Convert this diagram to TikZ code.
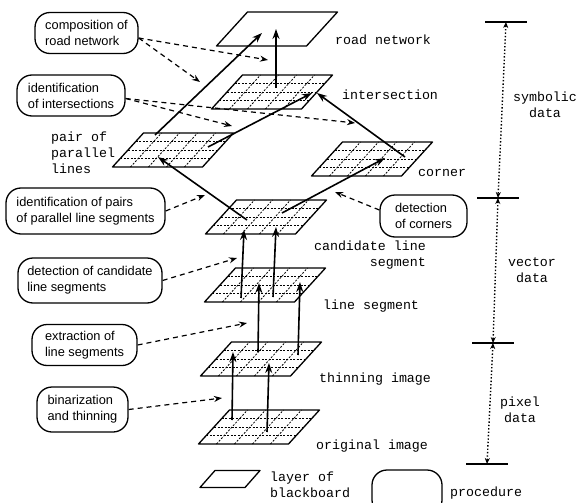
\documentclass[tikz,border=0pt]{standalone}
\usepackage{fontspec}
\setmainfont{Liberation Sans}
\setmonofont{Liberation Mono}
\usetikzlibrary{arrows.meta,positioning,calc}

\begin{document}
\begin{tikzpicture}[x=1pt, y=-1pt,
  plane/.style={draw, line width=1.3pt, fill=white, line join=round},
  grid/.style={dash pattern=on 2pt off 1.5pt, line width=0.8pt},
  box/.style={rectangle, draw, line width=1.3pt, rounded corners=15pt,
    align=left, inner sep=0pt, minimum height=41pt,
    font=\fontsize{12.8}{16}\selectfont},
  lbl/.style={inner sep=0pt, font=\fontsize{13.3}{16}\selectfont\ttfamily},
  arr/.style={-{Stealth[length=10pt,width=7pt]}, line width=1.6pt},
  darr/.style={-{Stealth[length=8pt,width=6pt]}, line width=1.2pt, dash pattern=on 5pt off 4pt},
  dim/.style={{Stealth[length=6pt,width=5pt]}-{Stealth[length=6pt,width=5pt]}, line width=1.4pt, dotted},
  tick/.style={line width=1.2pt}
]
  \useasboundingbox (0,0) rectangle (578,503);
  \clip (0,0) rectangle (578,503);

  % blackboard layers
  \coordinate (road) at (277,29);
  \draw[plane] ([shift={(-60.5,17)}]road) -- ([shift={(29.5,17)}]road)
    -- ([shift={(60.5,-17)}]road) -- ([shift={(-29.5,-17)}]road) -- cycle;
  \foreach \n/\cx/\cy in {inter/272/92, pair/173/150, corner/372/159, cand/266/217,
                          lseg/265/285, thin/261/359, orig/259/427} {
    \coordinate (\n) at (\cx,\cy);
    \begin{scope}[shift={(\n)}]
      \draw[plane] (-60.5,17) -- (29.5,17) -- (60.5,-17) -- (-29.5,-17) -- cycle;
      \foreach \gy in {-8.5,0,8.5}
        \draw[grid] ({-45-31*\gy/34},\gy) -- ({45-31*\gy/34},\gy);
      \foreach \k in {1,...,4}
        \draw[grid] ({-60.5+18*\k},17) -- ({-29.5+18*\k},-17);
    \end{scope}
  }

  \node[lbl, anchor=west] (lroad) at (335,40) {road network};
  \node[lbl, anchor=west] (linter) at (342,95) {intersection};
  \node[lbl, anchor=west] (lcorner) at (418,173) {corner};
  \node[lbl, anchor=west, align=left] (lpair) at (51,153) {pair of\\parallel\\lines};
  \node[lbl, anchor=east, align=right] (lcand) at (426,255) {candidate line\\segment};
  \node[lbl, anchor=west] (llseg) at (323,306) {line segment};
  \node[lbl, anchor=west] (lthin) at (319,379) {thinning image};
  \node[lbl, anchor=west] (lorig) at (316,446) {original image};

  % procedures
  \node[box, minimum width=103pt] (comp) at (86.5,33) {composition of\\road network};
  \node[box, minimum width=108pt] (idint) at (71,95.5) {identification\\of intersections};
  \node[box, minimum width=159pt, minimum height=46pt] (idpair) at (85.5,211) {identification of pairs\\of parallel line segments};
  \node[box, minimum width=144pt, minimum height=45pt] (detcand) at (90,280.5) {detection of candidate\\line segments};
  \node[box, minimum width=105pt] (extr) at (84.5,345) {extraction of\\line segments};
  \node[box, minimum width=91pt, minimum height=45pt] (binar) at (82.5,409.5) {binarization\\and thinning};
  \node[box, minimum width=87pt, minimum height=42pt] (detcorn) at (423.5,216) {detection\\of corners};

  \draw[arr] ([shift={(-27,-7)}]orig) -- ([shift={(-28,-7)}]thin);
  \draw[arr] ([shift={(8,5)}]orig) -- ([shift={(8,4)}]thin);
  \draw[arr] ([shift={(-3,-7)}]thin) -- ([shift={(-6,-2)}]lseg);
  \draw[arr] ([shift={(37,-4)}]thin) -- ([shift={(35,-3)}]lseg);
  \draw[arr] ([shift={(-24,13)}]lseg) -- ([shift={(-22,13)}]cand);
  \draw[arr] ([shift={(8,12)}]lseg) -- ([shift={(10,10)}]cand);
  \draw[arr] ([shift={(-19,3)}]cand) -- ([shift={(-15,7)}]pair);
  \draw[arr] ([shift={(16,-4)}]cand) -- ([shift={(13,-1)}]corner);
  \draw[arr] ([shift={(33,-2)}]corner) -- ([shift={(45,1)}]inter);
  \draw[arr] ([shift={(35,-3)}]pair) -- ([shift={(40,1)}]inter);
  \draw[arr] ([shift={(-18,-15)}]pair) -- ([shift={(-15,4)}]road);
  \draw[arr] ([shift={(4,-4)}]inter) -- ([shift={(-1,0)}]road);

  \draw[darr] ([yshift=-5pt]comp.east) -- ([shift={(-4,-32)}]inter);
  \draw[darr] ([yshift=-5pt]comp.east) -- ([shift={(-72,-10)}]inter);
  \draw[darr] ([yshift=-3pt]idint.east) -- ([shift={(-40,34)}]inter);
  \draw[darr] ([yshift=-3pt]idint.east) -- ([shift={(83,31)}]inter);
  \draw[darr] (idpair.east) -- ([shift={(-61,-22)}]cand);
  \draw[darr] (detcand.east) -- ([shift={(-28,-27)}]lseg);
  \draw[darr] (extr.east) -- ([shift={(-14,-36)}]thin);
  \draw[darr] (binar.east) -- ([shift={(-37,-29)}]orig);
  \draw[darr] ([yshift=6pt]detcorn.west) -- ([shift={(-37,33)}]corner);

  % kinds of data
  \coordinate (d1) at (506,22);
  \coordinate (d2) at (498,198);
  \coordinate (d3) at (493,343);
  \coordinate (d4) at (487,464);
  \foreach \p in {d1,d2,d3,d4}
    \draw[tick] ([xshift=-21pt]\p) -- ([xshift=21pt]\p);
  \draw[dim] (d1) -- (d2);
  \draw[dim] (d2) -- (d3);
  \draw[dim] (d3) -- (d4);
  \node[lbl, align=center] (lsym) at (545,105) {symbolic\\data};
  \node[lbl, align=center] (lvec) at (532,270) {vector\\data};
  \node[lbl, align=center] (lpix) at (520,410) {pixel\\data};

  % legend
  \coordinate (legl) at (230,479);
  \draw[plane] ([shift={(-30,8.5)}]legl) -- ([shift={(15,8.5)}]legl)
    -- ([shift={(30,-8.5)}]legl) -- ([shift={(-15,-8.5)}]legl) -- cycle;
  \node[lbl, anchor=west, align=left] (llayer) at (270,485) {layer of\\blackboard};
  \node[box, minimum width=70pt, minimum height=45pt] (legp) at (407,492.5) {};
  \node[lbl, anchor=west] (lproc) at (450,493) {procedure};
\end{tikzpicture}
\end{document}
